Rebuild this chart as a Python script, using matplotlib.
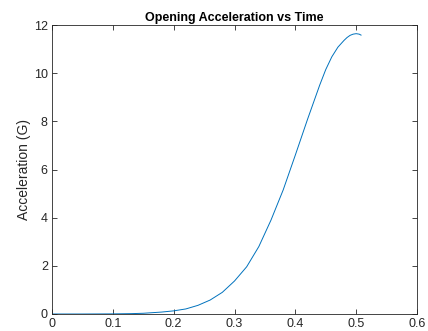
import matplotlib
matplotlib.use('Agg')
from matplotlib import pyplot as plt

# values
time_s = [0.0, 0.05, 0.10, 0.13, 0.15, 0.18, 0.20, 0.22, 0.24, 0.26,
          0.28, 0.30, 0.32, 0.34, 0.36, 0.38, 0.40, 0.42, 0.44, 0.45,
          0.46, 0.47, 0.48, 0.485, 0.49, 0.495, 0.50, 0.505, 0.508]
accel_g = [0.0, 0.0, 0.005, 0.015, 0.03, 0.08, 0.13, 0.21, 0.36, 0.58,
           0.90, 1.37, 1.96, 2.80, 3.90, 5.15, 6.60, 8.08, 9.50, 10.15,
           10.68, 11.08, 11.36, 11.48, 11.57, 11.62, 11.64, 11.62, 11.58]
xticks = [0, 0.1, 0.2, 0.3, 0.4, 0.5, 0.6]
xtick_labels = ['0', '0.1', '0.2', '0.3', '0.4', '0.5', '0.6']
yticks = [0, 2, 4, 6, 8, 10, 12]

plt.rcParams['font.family'] = ['Liberation Sans', 'DejaVu Sans']
axcol = '#262626'

fig = plt.figure(figsize=(4.28, 3.31), dpi=100)
fig.patch.set_facecolor('white')
ax = fig.add_axes([52/428, 17/331, 365/428, 289/331])

ax.plot(time_s, accel_g, color='#0072BD', linewidth=0.7)

ax.set_xlim(0, 0.6)
ax.set_ylim(0, 12)
ax.set_xticks(xticks)
ax.set_xticklabels(xtick_labels)
ax.set_yticks(yticks)
ax.tick_params(direction='in', length=3.5, width=0.6, colors=axcol,
               labelsize=9, top=True, right=True, pad=3)
for s in ax.spines.values():
  s.set_color(axcol)
  s.set_linewidth(0.6)

ax.set_ylabel('Acceleration (G)', fontsize=10, color=axcol, labelpad=2)
ax.set_title('Opening Acceleration vs Time', fontsize=9,
             fontweight='bold', color='black', pad=3)

fig.savefig('out.png', dpi=100)
